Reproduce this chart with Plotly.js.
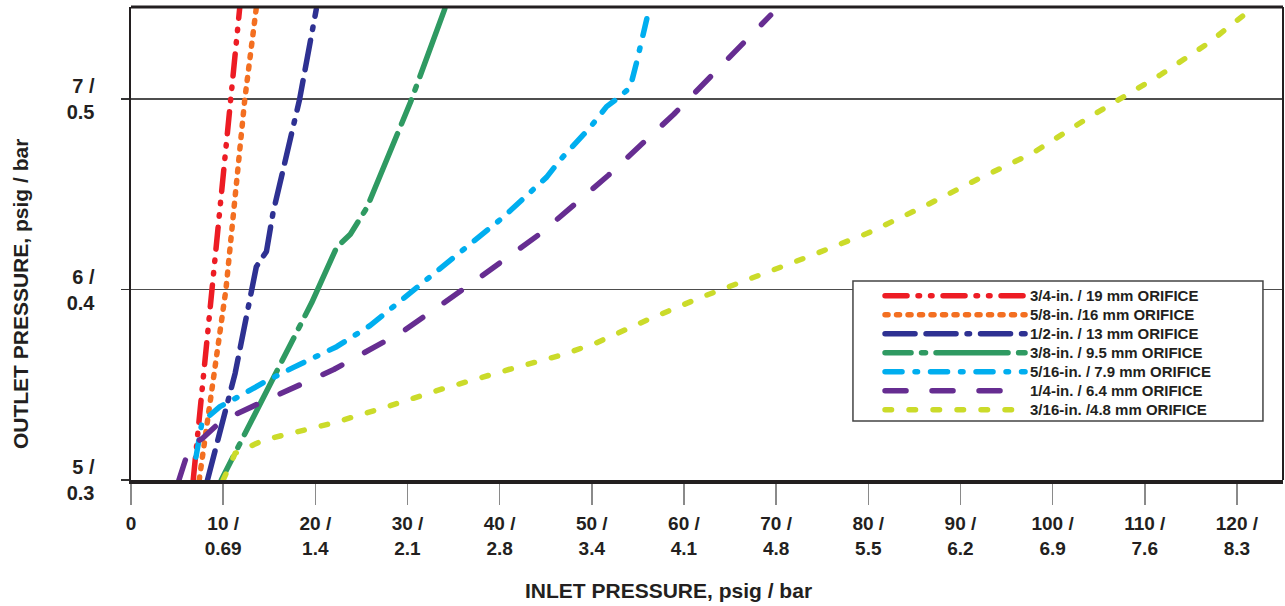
<!DOCTYPE html>
<html>
<head>
<meta charset="utf-8">
<script src="https://cdn.plot.ly/plotly-3.0.1.min.js"></script>
<style>
  html, body { margin: 0; padding: 0; background: #ffffff; }
  #chart { width: 1285px; height: 606px; }
  path.js-line { stroke-linecap: round; stroke-linejoin: round; }
</style>
</head>
<body>
<div id="chart"></div>
<script>
// ---- Data (inlet psig vs outlet psig) ----
const seriesNames = [
  '3/4-in. / 19 mm ORIFICE',
  '5/8-in. /16 mm ORIFICE',
  '1/2-in. / 13 mm ORIFICE',
  '3/8-in. / 9.5 mm ORIFICE',
  '5/16-in. / 7.9 mm ORIFICE',
  '1/4-in. / 6.4 mm ORIFICE',
  '3/16-in. /4.8 mm ORIFICE'
];

const inlet19 = [6.75, 7.75, 8.75, 9.75, 10.75, 11.8];
const outlet19 = [5.0, 5.49, 5.98, 6.47, 6.99, 7.48];

const inlet16 = [7.4, 9.0, 10.3, 12.35, 13.6];
const outlet16 = [5.0, 5.55, 6.0, 7.0, 7.48];

const inlet13 = [8.3, 9.7, 11.3, 13.6, 14.7, 15.4, 18.3, 20.1];
const outlet13 = [5.0, 5.26, 5.56, 6.12, 6.2, 6.4, 7.0, 7.47];

const inlet95 = [9.8, 16.5, 19.6, 22.3, 23.8, 25.6, 30.3, 34.1];
const outlet95 = [5.0, 5.63, 5.93, 6.22, 6.29, 6.43, 6.98, 7.48];

const inlet79 = [7.05, 7.66, 8.56, 9.65, 12.15, 14.32, 17.58, 22.32, 25.93, 31.0, 36.43, 40.4, 45.1, 46.56, 49.8, 51.6, 52.7, 54.16, 54.9, 55.4, 56.25];
const outlet79 = [5.12, 5.29, 5.34, 5.385, 5.45, 5.51, 5.59, 5.70, 5.81, 6.01, 6.22, 6.38, 6.59, 6.68, 6.85, 6.96, 7.0, 7.06, 7.20, 7.31, 7.48];

const inlet64 = [5.2, 6.4, 7.8, 9.8, 14.7, 22.0, 29.5, 36.6, 44.6, 51.8, 58.9, 65.9, 69.4];
const outlet64 = [5.0, 5.18, 5.22, 5.31, 5.42, 5.58, 5.78, 6.02, 6.30, 6.60, 6.92, 7.26, 7.44];

const inlet48 = [10.0, 11.3, 14.4, 17.6, 22.0, 27.8, 33.9, 41.0, 47.0, 50.5, 56.0, 61.9, 68.1, 73.9, 79.9, 86.0, 91.7, 97.8, 103.5, 111.8, 116.8, 121.0];
const outlet48 = [5.0, 5.14, 5.21, 5.245, 5.30, 5.385, 5.48, 5.58, 5.66, 5.72, 5.84, 5.96, 6.07, 6.18, 6.295, 6.435, 6.575, 6.715, 6.89, 7.13, 7.29, 7.45];

const inletTickVals = [0, 10, 20, 30, 40, 50, 60, 70, 80, 90, 100, 110, 120];
const inletTickText = ['0', '10 /<br>0.69', '20 /<br>1.4', '30 /<br>2.1', '40 /<br>2.8', '50 /<br>3.4', '60 /<br>4.1',
  '70 /<br>4.8', '80 /<br>5.5', '90 /<br>6.2', '100 /<br>6.9', '110 /<br>7.6', '120 /<br>8.3'];
const outletTickVals = [5, 6, 7];
const outletTickText = ['5 /<br>0.3', '6 /<br>0.4', '7 /<br>0.5'];

// ---- Styling ----
const seriesColors = ['#ed1c24', '#f36f21', '#2e3192', '#2f9a62', '#00aeef', '#662d91', '#cbdb2a'];
const seriesDash = [
  '22px,11px,1.5px,11px,1.5px,11px',
  '3px,8.5px',
  '30px,11px,30px,11px,2.5px,11px',
  '26px,10.5px,4px,10.5px,72px,10.5px',
  '17px,13px,2.5px,13px',
  '21px,26px',
  '6.5px,17.5px'
];
const xs = [inlet19, inlet16, inlet13, inlet95, inlet79, inlet64, inlet48];
const ys = [outlet19, outlet16, outlet13, outlet95, outlet79, outlet64, outlet48];

const FONT = 'Liberation Sans, Arial, Helvetica, sans-serif';

const traces = seriesNames.map((name, i) => ({
  type: 'scatter',
  mode: 'lines',
  x: xs[i],
  y: ys[i],
  name: '<span style="font-size:15px">' + name + '</span>',
  line: { color: seriesColors[i], width: 5.5, dash: seriesDash[i] },
  hoverinfo: 'skip'
}));

const layout = {
  width: 1285,
  height: 606,
  margin: { l: 131, r: 2, t: 7, b: 126 },
  paper_bgcolor: '#ffffff',
  plot_bgcolor: '#ffffff',
  showlegend: true,
  hovermode: false,
  font: { family: FONT, color: '#231f20' },
  xaxis: {
    range: [0, 125],
    tickmode: 'array',
    tickvals: inletTickVals,
    ticktext: inletTickText,
    ticks: 'outside',
    ticklen: 21,
    tickwidth: 1.5,
    tickcolor: '#8a8a8a',
    tickfont: { family: FONT, size: 19, weight: 'bold', color: '#231f20' },
    ticklabelstandoff: 2,
    showgrid: false,
    zeroline: false,
    showline: true,
    linewidth: 4,
    linecolor: '#231f20',
    fixedrange: true
  },
  yaxis: {
    range: [5, 7.483],
    tickmode: 'array',
    tickvals: outletTickVals,
    ticktext: outletTickText,
    ticks: 'outside',
    ticklen: 8,
    tickwidth: 1.5,
    tickcolor: '#333333',
    tickfont: { family: FONT, size: 20, weight: 'bold', color: '#231f20' },
    ticklabelstandoff: 22,
    showgrid: true,
    gridcolor: '#4d4d4d',
    gridwidth: 1.5,
    zeroline: false,
    showline: true,
    linewidth: 2.5,
    linecolor: '#231f20',
    fixedrange: true
  },
  legend: {
    x: 0.6502,
    y: 0.4200,
    xanchor: 'left',
    yanchor: 'top',
    bgcolor: 'rgba(0,0,0,0)',
    borderwidth: 0,
    itemwidth: 140,
    font: { family: FONT, size: 12, weight: 'bold', color: '#231f20' },
    traceorder: 'normal',
    itemclick: false,
    itemdoubleclick: false
  },
  shapes: [
    { type: 'line', xref: 'paper', yref: 'paper', x0: 0, x1: 1, y0: 1, y1: 1,
      line: { color: '#231f20', width: 3 }, layer: 'above' },
    { type: 'line', xref: 'paper', yref: 'paper', x0: 1, x1: 1, y0: 0, y1: 1,
      line: { color: '#231f20', width: 2 }, layer: 'above' },
    { type: 'rect', xref: 'paper', yref: 'paper', x0: 0.6267, x1: 0.9826, y0: 0.1247, y1: 0.4207,
      line: { color: '#444444', width: 1.5 }, fillcolor: '#ffffff', layer: 'above' }
  ],
  annotations: [
    { text: '<b>INLET PRESSURE, psig / bar</b>', xref: 'paper', yref: 'paper', x: 0.467, y: -0.2326,
      xanchor: 'center', yanchor: 'middle', showarrow: false,
      font: { family: FONT, size: 21, color: '#231f20' } },
    { text: '<b>OUTLET PRESSURE, psig / bar</b>', xref: 'paper', yref: 'paper', x: -0.0964, y: 0.393,
      xanchor: 'center', yanchor: 'middle', textangle: -90, showarrow: false,
      font: { family: FONT, size: 21, color: '#231f20' } }
  ]
};

Plotly.newPlot('chart', traces, layout, { displayModeBar: false, staticPlot: true });
</script>
</body>
</html>
